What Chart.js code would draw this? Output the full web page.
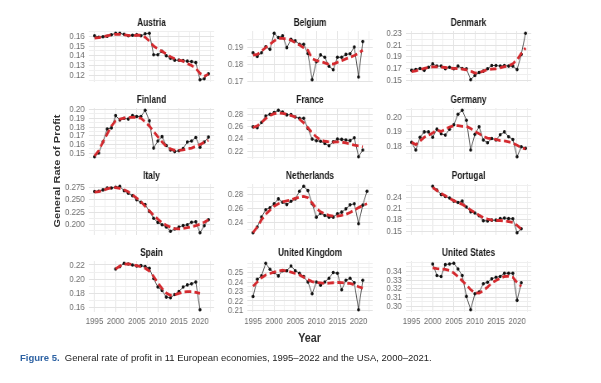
<!DOCTYPE html>
<html><head><meta charset="utf-8">
<script src="https://cdn.jsdelivr.net/npm/chart.js@4.4.0/dist/chart.umd.min.js"></script>
<style>
html,body{margin:0;padding:0;background:#fff;}
#page{position:relative;width:601px;height:383px;overflow:hidden;background:#fff;}
#fig{position:absolute;left:0;top:0;width:724px;height:383px;transform:scaleX(0.83);transform-origin:0 0;}
canvas{position:absolute;}
#ylab{position:absolute;left:-30.7px;top:164px;width:200px;height:14px;line-height:14px;text-align:center;
 font:bold 11px 'Liberation Sans',Arial,sans-serif;color:#333;transform:rotate(-90deg);transform-origin:50% 50%;}
#xlab{position:absolute;left:313px;top:330px;width:120px;text-align:center;font:bold 13px 'Liberation Sans',Arial,sans-serif;color:#333;}
#cap{position:absolute;left:20px;top:352px;white-space:nowrap;font:9.5px 'Liberation Sans',Arial,sans-serif;color:#222;}
#cap b{color:#2d62a3;}
</style></head><body><div id="page">
<div id="fig">
<div id="ylab">General Rate of Profit</div>
<div id="xlab">Year</div>
</div>
<div id="cap"><b>Figure 5.</b>&nbsp; General rate of profit in 11 European economies, 1995–2022 and the USA, 2000–2021.</div>
</div>
<script>
// ---------- data ----------
const yearsFrom1995 = [1995,1996,1997,1998,1999,2000,2001,2002,2003,2004,2005,2006,2007,2008,2009,2010,2011,2012,2013,2014,2015,2016,2017,2018,2019,2020,2021,2022];
const yearsFrom2000 = [2000,2001,2002,2003,2004,2005,2006,2007,2008,2009,2010,2011,2012,2013,2014,2015,2016,2017,2018,2019,2020,2021];
const yearTicks = [1995,2000,2005,2010,2015,2020];

const austriaRate  = [0.1605,0.159,0.1595,0.160,0.1615,0.163,0.163,0.162,0.1605,0.161,0.1615,0.1605,0.1625,0.163,0.141,0.141,0.1445,0.140,0.1375,0.1355,0.1355,0.135,0.1345,0.134,0.133,0.1155,0.1165,0.1215];
const austriaTrend = [0.158,0.1585,0.1595,0.1605,0.1615,0.162,0.162,0.1615,0.161,0.1605,0.161,0.161,0.159,0.155,0.150,0.147,0.1445,0.142,0.139,0.137,0.1355,0.1345,0.132,0.130,0.127,0.122,0.119,0.121];
const austriaTicks = [0.12,0.13,0.14,0.15,0.16];

const belgiumRate  = [0.187,0.1848,0.187,0.1905,0.189,0.1985,0.196,0.197,0.190,0.195,0.194,0.192,0.192,0.1865,0.171,0.1817,0.1857,0.1843,0.179,0.1769,0.1843,0.1843,0.186,0.1864,0.1904,0.1726,0.1936];
const belgiumTrend = [0.1855,0.186,0.188,0.190,0.192,0.194,0.1955,0.1955,0.195,0.1944,0.193,0.1915,0.190,0.1884,0.1835,0.1823,0.1818,0.181,0.180,0.1803,0.1813,0.1823,0.1833,0.1843,0.1853,0.1868,0.1884];
const belgiumTicks = [0.17,0.18,0.19];

const denmarkRate  = [0.1667,0.168,0.170,0.1667,0.172,0.1778,0.174,0.174,0.1695,0.172,0.1695,0.174,0.170,0.1695,0.1508,0.158,0.163,0.1655,0.1695,0.175,0.175,0.174,0.175,0.174,0.174,0.168,0.194,0.23];
const denmarkTrend = [0.1647,0.166,0.168,0.170,0.1715,0.1728,0.1728,0.1722,0.1716,0.1705,0.170,0.1695,0.169,0.1675,0.1655,0.162,0.163,0.1655,0.168,0.169,0.1695,0.171,0.173,0.1745,0.178,0.185,0.1955,0.205];
const denmarkTicks = [0.15,0.17,0.19,0.21,0.23];

const finlandRate  = [0.1462,0.1504,0.163,0.1777,0.179,0.193,0.188,0.19,0.189,0.193,0.192,0.192,0.199,0.187,0.156,0.164,0.169,0.159,0.1538,0.152,0.153,0.1555,0.163,0.164,0.168,0.157,0.163,0.1685];
const finlandTrend = [0.147,0.153,0.163,0.172,0.181,0.187,0.189,0.190,0.191,0.191,0.191,0.190,0.186,0.181,0.175,0.169,0.163,0.158,0.155,0.1535,0.1535,0.154,0.155,0.156,0.158,0.160,0.1625,0.165];
const finlandTicks = [0.15,0.16,0.17,0.18,0.19,0.20];

const franceRate  = [0.2595,0.258,0.2665,0.2773,0.28,0.2827,0.2865,0.2838,0.279,0.2795,0.2757,0.2735,0.2735,0.2568,0.2395,0.2368,0.236,0.2324,0.2286,0.235,0.2395,0.239,0.238,0.237,0.2416,0.2108,0.2216];
const franceTrend = [0.2585,0.261,0.267,0.273,0.278,0.281,0.282,0.2815,0.280,0.278,0.2755,0.272,0.266,0.258,0.25,0.243,0.238,0.236,0.235,0.2345,0.235,0.2345,0.2335,0.2315,0.2295,0.2285,0.227];
const franceTicks = [0.22,0.24,0.26,0.28];

const germanyRate  = [0.1825,0.1773,0.186,0.1897,0.1897,0.186,0.1916,0.1884,0.1875,0.1916,0.1946,0.2018,0.2045,0.1977,0.1773,0.188,0.1932,0.1841,0.1823,0.1852,0.1841,0.1877,0.1897,0.1864,0.1845,0.1727,0.1795,0.1784];
const germanyTrend = [0.1825,0.181,0.1835,0.186,0.1875,0.189,0.191,0.190,0.1915,0.193,0.194,0.194,0.1935,0.1935,0.192,0.190,0.1885,0.1865,0.1855,0.185,0.1845,0.1838,0.1835,0.1828,0.182,0.1805,0.179,0.178];
const germanyTicks = [0.18,0.19,0.20];

const italyRate  = [0.2665,0.267,0.2698,0.2737,0.2737,0.275,0.277,0.268,0.2633,0.258,0.25,0.2448,0.2403,0.2264,0.213,0.2046,0.200,0.1955,0.187,0.1915,0.1955,0.1982,0.200,0.205,0.2057,0.184,0.198,0.21];
const italyTrend = [0.2655,0.2665,0.269,0.272,0.274,0.2745,0.273,0.270,0.266,0.260,0.2535,0.246,0.237,0.228,0.219,0.211,0.204,0.199,0.195,0.192,0.1915,0.1925,0.194,0.196,0.198,0.201,0.205,0.21];
const italyTicks = [0.200,0.225,0.250,0.275];

const netherlandsRate  = [0.2258,0.2338,0.248,0.2585,0.2613,0.267,0.2739,0.2692,0.2658,0.2706,0.2739,0.2847,0.2918,0.2857,0.267,0.2479,0.2536,0.2503,0.2479,0.2479,0.2526,0.255,0.2597,0.2654,0.267,0.2385,0.265,0.2847];
const netherlandsTrend = [0.2258,0.234,0.244,0.252,0.258,0.2635,0.267,0.2695,0.271,0.2725,0.2745,0.2765,0.2775,0.2755,0.268,0.2605,0.2555,0.2525,0.2505,0.2495,0.2495,0.2505,0.252,0.2545,0.258,0.2615,0.2645,0.267];
const netherlandsTicks = [0.24,0.26,0.28];

const portugalRate  = [0.269,0.2593,0.247,0.2418,0.238,0.2296,0.226,0.2296,0.214,0.201,0.198,0.1905,0.1775,0.177,0.179,0.179,0.183,0.1847,0.183,0.1825,0.1456,0.156];
const portugalTrend = [0.266,0.258,0.25,0.244,0.237,0.231,0.226,0.221,0.214,0.206,0.199,0.192,0.186,0.182,0.179,0.178,0.178,0.177,0.175,0.173,0.165,0.155];
const portugalTicks = [0.15,0.18,0.21,0.24];

const spainRate  = [0.2144,0.2177,0.2223,0.2214,0.22,0.2186,0.219,0.2177,0.2153,0.2009,0.189,0.1842,0.1749,0.1739,0.1786,0.1828,0.189,0.192,0.1935,0.196,0.1572];
const spainTrend = [0.2144,0.2185,0.221,0.2215,0.2205,0.219,0.2175,0.2155,0.2115,0.204,0.195,0.187,0.1805,0.1775,0.178,0.180,0.182,0.1825,0.1825,0.1815,0.180];
const spainTicks = [0.16,0.18,0.20,0.22];

const ukRate  = [0.2247,0.2428,0.2465,0.2598,0.2535,0.25,0.2465,0.252,0.252,0.257,0.252,0.2493,0.2458,0.240,0.2275,0.24,0.2365,0.240,0.244,0.25,0.2493,0.2318,0.2418,0.244,0.2393,0.2107,0.2418];
const ukTrend = [0.2355,0.24,0.2445,0.2475,0.249,0.2505,0.2515,0.2525,0.2515,0.2505,0.249,0.2475,0.245,0.2425,0.2405,0.2395,0.239,0.2385,0.2388,0.2392,0.2395,0.2393,0.2388,0.2385,0.237,0.235,0.2335];
const ukTicks = [0.21,0.22,0.23,0.24,0.25];

const usRate  = [0.3483,0.3351,0.334,0.3475,0.3483,0.349,0.3426,0.3351,0.3113,0.2962,0.3143,0.3162,0.3257,0.3275,0.3313,0.3332,0.334,0.3377,0.3377,0.3377,0.3068,0.3268];
const usTrend = [0.3438,0.343,0.3426,0.342,0.3408,0.338,0.334,0.329,0.3245,0.319,0.3155,0.315,0.318,0.322,0.3265,0.3295,0.332,0.334,0.3343,0.333,0.327,0.3226];
const usTicks = [0.30,0.31,0.32,0.33,0.34];

// ---------- layout (x in unscaled units; the figure is compressed by 0.83 horizontally) ----------
const panels = [
  {name:'Austria', years:yearsFrom1995, rate:austriaRate, trend:austriaTrend, ticks:austriaTicks, dec:2},
  {name:'Belgium', years:yearsFrom1995, rate:belgiumRate, trend:belgiumTrend, ticks:belgiumTicks, dec:2},
  {name:'Denmark', years:yearsFrom1995, rate:denmarkRate, trend:denmarkTrend, ticks:denmarkTicks, dec:2},
  {name:'Finland', years:yearsFrom1995, rate:finlandRate, trend:finlandTrend, ticks:finlandTicks, dec:2},
  {name:'France', years:yearsFrom1995, rate:franceRate, trend:franceTrend, ticks:franceTicks, dec:2},
  {name:'Germany', years:yearsFrom1995, rate:germanyRate, trend:germanyTrend, ticks:germanyTicks, dec:2},
  {name:'Italy', years:yearsFrom1995, rate:italyRate, trend:italyTrend, ticks:italyTicks, dec:3},
  {name:'Netherlands', years:yearsFrom1995, rate:netherlandsRate, trend:netherlandsTrend, ticks:netherlandsTicks, dec:2},
  {name:'Portugal', years:yearsFrom2000, rate:portugalRate, trend:portugalTrend, ticks:portugalTicks, dec:2},
  {name:'Spain', years:yearsFrom2000, rate:spainRate, trend:spainTrend, ticks:spainTicks, dec:2},
  {name:'United Kingdom', years:yearsFrom1995, rate:ukRate, trend:ukTrend, ticks:ukTicks, dec:2},
  {name:'United States', years:yearsFrom2000, rate:usRate, trend:usTrend, ticks:usTicks, dec:2}
];

const COL_LEFT = [107, 298, 489];
const ROW_TOP = [31, 108, 184, 261];
const PLOT_W = 152, PLOT_H = 51;
const YAXIS_W = 42, TITLE_H = 14, RIGHT_PAD = 3;
const X_MIN = 1993.65, X_MAX = 2023.35;
const FONT = "'Liberation Sans',Arial,sans-serif";
const MAJ = '#e3e3e3', MIN = '#efefef';
const RED = '#d42a2f';
const TICK_COLOR = '#6e6e6e';

Chart.defaults.font.family = FONT;
const fig = document.getElementById('fig');

panels.forEach((p, i) => {
  const col = i % 3, row = Math.floor(i / 3);
  const bottom = row === 3;
  const xH = bottom ? 18 : 11;
  const cv = document.createElement('canvas');
  const w = YAXIS_W + PLOT_W + RIGHT_PAD, h = TITLE_H + PLOT_H + xH;
  cv.width = w; cv.height = h;
  cv.style.left = (COL_LEFT[col] - YAXIS_W) + 'px';
  cv.style.top = (ROW_TOP[row] - TITLE_H) + 'px';
  cv.style.width = w + 'px'; cv.style.height = h + 'px';
  fig.appendChild(cv);

  const all = p.rate.concat(p.trend);
  const lo = Math.min(...all), hi = Math.max(...all);
  const yMin = lo - 0.05 * (hi - lo), yMax = hi + 0.05 * (hi - lo);
  const step = p.ticks[1] - p.ticks[0];
  const majorKeys = new Set(p.ticks.map(v => v.toFixed(4)));
  const yTicks = [];
  for (let v = p.ticks[0] - step * 4; v <= yMax + 1e-9; v += step / 2) {
    if (v >= yMin - 1e-9) yTicks.push(+v.toFixed(5));
  }
  const isMajY = v => majorKeys.has((+v).toFixed(4));
  const xTicks = [];
  for (let v = 1992.5; v <= X_MAX; v += 2.5) if (v >= X_MIN) xTicks.push(v);
  const isMajX = v => yearTicks.includes(v);

  const trendPts = p.trend.map((v, k) => ({x: p.years[k], y: v}));
  const ratePts = p.rate.map((v, k) => ({x: p.years[k], y: v}));

  new Chart(cv, {
    type: 'line',
    data: { datasets: [
      { data: trendPts, borderColor: RED, borderWidth: 2.8, borderDash: [8, 4], pointRadius: 0, tension: 0, fill: false },
      { data: ratePts, borderColor: '#3c3c3c', borderWidth: 0.9, pointRadius: 1.8, pointBackgroundColor: '#111', pointBorderWidth: 0, tension: 0, fill: false }
    ]},
    options: {
      responsive: false, animation: false, devicePixelRatio: 1, events: [],
      layout: { padding: { left: 0, right: RIGHT_PAD, top: 0, bottom: 0 } },
      plugins: {
        legend: { display: false }, tooltip: { enabled: false },
        title: { display: true, text: p.name, fullSize: false, color: '#1a1a1a',
                 font: { family: FONT, size: 10, weight: 'bold', lineHeight: 1.2 }, padding: { top: 0, bottom: 2 } }
      },
      scales: {
        x: { type: 'linear', min: X_MIN, max: X_MAX,
             afterBuildTicks: s => { s.ticks = xTicks.map(v => ({value: v})); },
             afterFit: s => { s.height = xH; },
             border: { display: false },
             grid: { color: c => isMajX(c.tick && c.tick.value) ? MAJ : MIN, drawTicks: false, lineWidth: 1 },
             ticks: { display: bottom, autoSkip: false, maxRotation: 0, padding: 4, color: TICK_COLOR,
                      font: { family: FONT, size: 9.5 }, callback: v => isMajX(v) ? String(v) : '' } },
        y: { type: 'linear', min: yMin, max: yMax,
             afterBuildTicks: s => { s.ticks = yTicks.map(v => ({value: v})); },
             afterFit: s => { s.width = YAXIS_W; },
             border: { display: false },
             grid: { color: c => isMajY(c.tick && c.tick.value) ? MAJ : MIN, drawTicks: false, lineWidth: 1 },
             ticks: { autoSkip: false, padding: 5, color: TICK_COLOR, font: { family: FONT, size: 9.5 },
                      callback: v => isMajY(v) ? (+v).toFixed(p.dec) : '' } }
      }
    }
  });
});
</script>
</body></html>
